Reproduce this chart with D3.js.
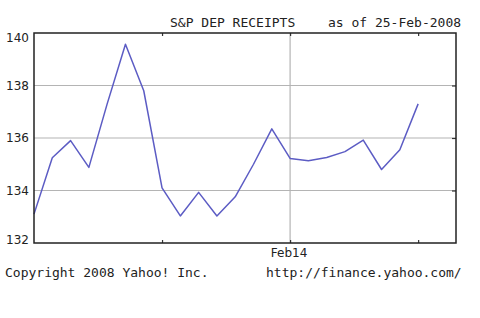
<!DOCTYPE html>
<html>
<head>
<meta charset="utf-8">
<script src="https://cdn.jsdelivr.net/npm/d3@7"></script>
<style>
  body { margin: 0; background: #fff; }
  svg { display: block; }
  .mono { font-family: "DejaVu Sans Mono", monospace; font-size: 13px; fill: #222; }
  .lbl { font-family: "DejaVu Sans", sans-serif; font-size: 12px; fill: #222; }
</style>
</head>
<body>
<svg width="480" height="318"></svg>
<script>
// closing prices, one per trading day
var prices = [133.1, 135.25, 135.9, 134.88, 137.3, 139.57, 137.8, 134.1, 133.03, 133.93, 133.03,
              133.76, 135.0, 136.35, 135.22, 135.13, 135.26, 135.48, 135.92, 134.8, 135.55, 137.3];
var yTicks = [132, 134, 136, 138, 140];
var xTicks = [7, 14, 21];          // day index of weekly ticks
var xTickLabels = ["", "Feb14", ""];
var gridX = [14];
var title = "S&P DEP RECEIPTS";
var asOf = "as of 25-Feb-2008";
var footLeft = "Copyright 2008 Yahoo! Inc.";
var footRight = "http://finance.yahoo.com/";

var svg = d3.select("svg");
var plotL = 34, plotR = 456, plotT = 33, plotB = 243;

var x = d3.scaleLinear().domain([0, 23.07]).range([plotL, plotR]);
var y = d3.scaleLinear().domain([132, 140]).range([plotB, plotT]);

// horizontal grid
svg.append("g").selectAll("line")
    .data(yTicks.filter(function(d) { return d > 132 && d < 140; }))
  .enter().append("line")
    .attr("x1", plotL).attr("x2", plotR)
    .attr("y1", function(d) { return y(d); }).attr("y2", function(d) { return y(d); })
    .attr("stroke", "#b4b4b4").attr("stroke-width", 1.2);

// vertical grid
svg.append("g").selectAll("line")
    .data(gridX)
  .enter().append("line")
    .attr("x1", function(d) { return x(d); }).attr("x2", function(d) { return x(d); })
    .attr("y1", plotT).attr("y2", plotB)
    .attr("stroke", "#b4b4b4").attr("stroke-width", 1.2);

// small inner ticks
var tickStyle = function(g) {
    g.select(".domain").remove();
    g.selectAll(".tick line").attr("stroke", "#333").attr("stroke-width", 1.2);
    g.selectAll(".tick text").remove();
};
svg.append("g").attr("transform", "translate(0," + plotT + ")")
    .call(d3.axisBottom(x).tickValues(xTicks).tickSize(3)).call(tickStyle);
svg.append("g").attr("transform", "translate(0," + plotB + ")")
    .call(d3.axisTop(x).tickValues(xTicks).tickSize(3)).call(tickStyle);
svg.append("g").attr("transform", "translate(" + plotR + ",0)")
    .call(d3.axisLeft(y).tickValues([134, 136, 138]).tickSize(4)).call(tickStyle);

// price line
var line = d3.line()
    .x(function(d, i) { return x(i); })
    .y(function(d) { return y(d); });

svg.append("path")
    .datum(prices)
    .attr("d", line)
    .attr("fill", "none")
    .attr("stroke", "#5c5cc4")
    .attr("stroke-width", 1.5)
    .attr("stroke-linejoin", "round");

// frame
svg.append("rect")
    .attr("x", plotL).attr("y", plotT)
    .attr("width", plotR - plotL).attr("height", plotB - plotT)
    .attr("fill", "none").attr("stroke", "#222").attr("stroke-width", 1.5);

// y labels, kept inside the frame height
svg.append("g").selectAll("text")
    .data(yTicks)
  .enter().append("text")
    .attr("class", "lbl")
    .attr("x", 29)
    .attr("y", function(d) { return Math.min(Math.max(y(d), 38), 240); })
    .attr("dy", "0.36em")
    .attr("text-anchor", "end")
    .text(function(d) { return d; });

// x labels
svg.append("g").selectAll("text")
    .data(xTicks)
  .enter().append("text")
    .attr("class", "lbl")
    .attr("x", function(d) { return x(d) - 1; })
    .attr("y", 256.5)
    .attr("text-anchor", "middle")
    .text(function(d, i) { return xTickLabels[i]; });

svg.append("text").attr("class", "mono").attr("x", 170).attr("y", 26.5).text(title);
svg.append("text").attr("class", "mono").attr("x", 328).attr("y", 26.5).text(asOf);
svg.append("text").attr("class", "mono").attr("x", 5).attr("y", 276.5).text(footLeft);
svg.append("text").attr("class", "mono").attr("x", 266).attr("y", 276.5).text(footRight);
</script>
</body>
</html>
